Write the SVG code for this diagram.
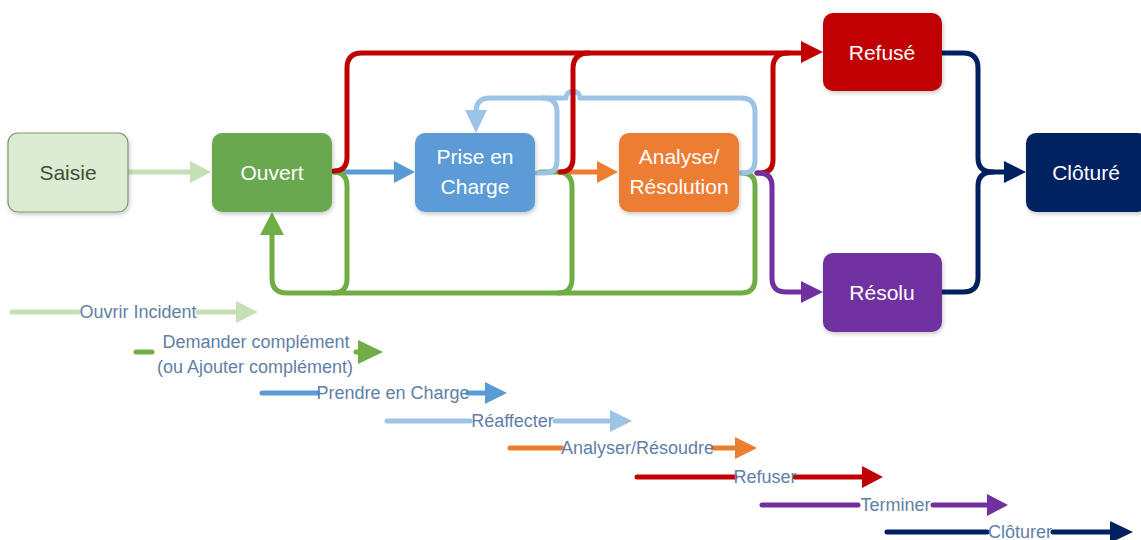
<svg xmlns="http://www.w3.org/2000/svg" width="1141" height="540" viewBox="0 0 1141 540">
<style>
.node text{font-family:"Liberation Sans",Arial,sans-serif;font-size:21px;fill:#fff;text-anchor:middle}
.c{fill:none;stroke-width:5;stroke-linecap:round;stroke-linejoin:round}
.lg{fill:none;stroke-width:5;stroke-linecap:round}
.lt{font-family:"Liberation Sans",Arial,sans-serif;font-size:18px;fill:#5f80a6;text-anchor:middle}
.lgr{stroke:#c5e0b4}.lgrf{fill:#c5e0b4}
.gr{stroke:#70ad47}.grf{fill:#70ad47}
.bl{stroke:#5b9bd5}.blf{fill:#5b9bd5}
.lb{stroke:#9dc3e6}.lbf{fill:#9dc3e6}
.or{stroke:#ed7d31}.orf{fill:#ed7d31}
.rd{stroke:#c00000}.rdf{fill:#c00000}
.pu{stroke:#7030a0}.puf{fill:#7030a0}
.nv{stroke:#002060}.nvf{fill:#002060}
</style>
<defs>
<filter id="sh" x="-10%" y="-10%" width="130%" height="140%">
<feDropShadow dx="1" dy="2" stdDeviation="2" flood-color="#000" flood-opacity="0.22"/>
</filter>
</defs>
<g id="connectors">
<!-- Saisie -> Ouvert -->
<path class="c lgr" d="M128,172 L192,172"/>
<polygon class="lgrf" points="190,161 211,172 190,183"/>
<!-- Ouvert -> Prise -->
<path class="c bl" d="M335,172 L396,172"/>
<polygon class="blf" points="394,161 415,172 394,183"/>
<!-- Prise -> Analyse -->
<path class="c or" d="M560,172 L599,172"/>
<polygon class="orf" points="597,161 618,172 597,183"/>
<!-- green loops (Demander complement) -->
<path class="c gr" d="M333,172 Q347,172 347,186 L347,279 Q347,293 333,293"/>
<path class="c gr" d="M540,172 L557,172 Q572,172 572,187 L572,279 Q572,293 558,293"/>
<path class="c gr" d="M742,173 Q755,173 755,186 L755,279 Q755,293 741,293 L287,293 Q272,293 272,278 L272,234"/>
<polygon class="grf" points="260,235 272,212 284,235"/>
<!-- light blue (Reaffecter) -->
<path class="c lb" d="M740,173 L743,173 Q755,173 755,161 L755,112 Q755,98 741,98 L580,98 A7,7 0 0 0 566,98 L490,98 Q476,98 476,112"/>
<path class="c lb" d="M537,173 L545,173 Q557,173 557,161 L557,112 Q557,98 543,98"/>
<polygon class="lbf" points="465,110 476,133 487,110"/>
<!-- red (Refuser) -->
<path class="c rd" d="M334,171 Q347,171 347,157 L347,68 Q347,53 362,53 L803,53"/>
<path class="c rd" d="M560,172 Q573,172 573,158 L573,69 Q573,53 589,53"/>
<path class="c rd" d="M757,173 L760,173 Q773,173 773,160 L773,68 Q773,53 788,53"/>
<polygon class="rdf" points="801,41 823,52 801,63"/>
<!-- purple (Terminer) -->
<path class="c pu" d="M757,173 L759,173 Q772,173 772,186 L772,278 Q772,292 786,292 L803,292"/>
<polygon class="puf" points="801,281 823,292 801,303"/>
<!-- navy (Cloturer) -->
<path class="c nv" d="M942,53 L963,53 Q978,53 978,68 L978,158 Q978,172 993,172 L1006,172"/>
<path class="c nv" d="M942,292 L963,292 Q978,292 978,277 L978,186 Q978,172 993,172"/>
<polygon class="nvf" points="1004,161 1026,172 1004,183"/>
</g>
<g id="saisie" class="node">
<rect x="8" y="133" width="120" height="79" rx="10" fill="#dcebd3" stroke="#7d9a6b" stroke-width="1.2" filter="url(#sh)"/>
<text x="68" y="180" style="fill:#3f4f36">Saisie</text>
</g>
<g id="ouvert" class="node">
<rect x="212" y="133" width="120" height="79" rx="10" fill="#6aa84f" filter="url(#sh)"/>
<text x="272" y="180">Ouvert</text>
</g>
<g id="prise" class="node">
<rect x="415" y="133" width="120" height="79" rx="10" fill="#5b9bd5" filter="url(#sh)"/>
<text x="475" y="164">Prise en</text>
<text x="475" y="194">Charge</text>
</g>
<g id="analyse" class="node">
<rect x="619" y="133" width="120" height="79" rx="10" fill="#ed7d31" filter="url(#sh)"/>
<text x="679" y="164">Analyse/</text>
<text x="679" y="194">Résolution</text>
</g>
<g id="refuse" class="node">
<rect x="823" y="13" width="119" height="78" rx="10" fill="#c00000" filter="url(#sh)"/>
<text x="882" y="60">Refusé</text>
</g>
<g id="resolu" class="node">
<rect x="823" y="253" width="119" height="79" rx="10" fill="#7030a0" filter="url(#sh)"/>
<text x="882" y="300">Résolu</text>
</g>
<g id="cloture" class="node">
<rect x="1026" y="133" width="122" height="79" rx="10" fill="#002060" filter="url(#sh)"/>
<text x="1086" y="180">Clôturé</text>
</g>
<g id="legend">
<path class="lg lgr" d="M12,312 L78,312 M198,312 L238,312"/>
<polygon class="lgrf" points="236,301 258,312 236,323"/>
<text class="lt" x="138" y="318">Ouvrir Incident</text>

<path class="lg gr" d="M136,352 L152,352 M356,352 L360,352"/>
<polygon class="grf" points="358,340 383,352 358,364"/>
<text class="lt" x="256" y="348">Demander complément</text>
<text class="lt" x="255" y="373">(ou Ajouter complément)</text>

<path class="lg bl" d="M262,393 L318,393 M468,393 L487,393"/>
<polygon class="blf" points="485,382 507,393 485,404"/>
<text class="lt" x="393" y="399">Prendre en Charge</text>

<path class="lg lb" d="M387,421 L470,421 M555,421 L612,421"/>
<polygon class="lbf" points="610,410 632,421 610,432"/>
<text class="lt" x="512.5" y="427">Réaffecter</text>

<path class="lg or" d="M510,448 L562,448 M713,448 L737,448"/>
<polygon class="orf" points="735,437 757,448 735,459"/>
<text class="lt" x="637.5" y="454">Analyser/Résoudre</text>

<path class="lg rd" d="M637,477 L735,477 M795,477 L864,477"/>
<polygon class="rdf" points="862,466 883,477 862,488"/>
<text class="lt" x="765" y="483">Refuser</text>

<path class="lg pu" d="M762,505 L858,505 M933,505 L989,505"/>
<polygon class="puf" points="987,494 1008,505 987,516"/>
<text class="lt" x="895.5" y="511">Terminer</text>

<path class="lg nv" d="M887,532 L987,532 M1053,532 L1112,532"/>
<polygon class="nvf" points="1110,521 1133,532 1110,543"/>
<text class="lt" x="1020" y="538">Clôturer</text>
</g>
</svg>
